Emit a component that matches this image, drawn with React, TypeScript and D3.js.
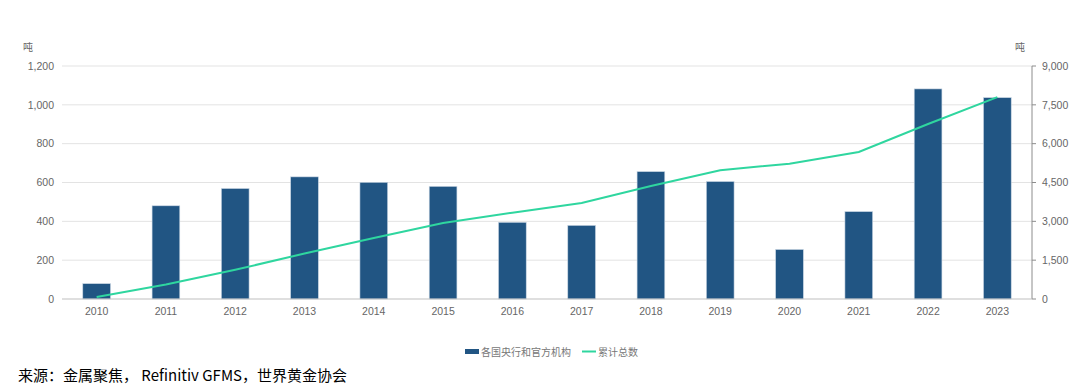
import React from "react";
import * as d3 from "d3";

const years = ["2010","2011","2012","2013","2014","2015","2016","2017","2018","2019","2020","2021","2022","2023"];
const purchases = [79, 480, 569, 629, 601, 580, 395, 379, 656, 605, 255, 450, 1082, 1037];
const cumulative = [79, 559, 1128, 1757, 2358, 2938, 3333, 3712, 4368, 4973, 5228, 5678, 6760, 7797];
const leftTicks = [0, 200, 400, 600, 800, 1000, 1200];
const rightTicks = [0, 1500, 3000, 4500, 6000, 7500, 9000];
const barLabel = "各国央行和官方机构";
const lineLabel = "累计总数";
const unit = "吨";
const source = "来源：金属聚焦， Refinitiv GFMS，世界黄金协会";

const W = 1080, H = 389;
const L = 62, R = 1032, T = 66, B = 299;
const font = "'Noto Sans CJK SC', 'Noto Sans', sans-serif";
const numFont = "'Liberation Sans', Arial, sans-serif";

export default function App() {
  const x = d3.scaleBand().domain(years).range([L, R]).paddingInner(0.6).paddingOuter(0.3);
  const yL = d3.scaleLinear().domain([0, 1200]).range([B, T]);
  const yR = d3.scaleLinear().domain([0, 9000]).range([B, T]);
  const line = d3.line<number>()
    .x((_, i) => (x(years[i]) as number) + x.bandwidth() / 2)
    .y((d) => yR(d));
  const fmt = d3.format(",");
  return (
    <svg width={W} height={H} style={{ position: "absolute", left: 0, top: 0, fontFamily: font }}>
      <rect width={W} height={H} fill="#fff" />
      {leftTicks.map((t) => (
        <g key={"l" + t}>
          {t > 0 && <line x1={L} x2={R} y1={yL(t)} y2={yL(t)} stroke="#e3e3e3" strokeWidth={1} />}
          <text x={54} y={yL(t)} dy="0.35em" textAnchor="end" fontSize={10.5} fill="#666" fontFamily={numFont}>{fmt(t)}</text>
        </g>
      ))}
      {rightTicks.map((t) => (
        <g key={"r" + t}>
          <line x1={R} x2={R + 4} y1={yR(t)} y2={yR(t)} stroke="#8c8c8c" />
          <text x={R + 10} y={yR(t)} dy="0.35em" textAnchor="start" fontSize={10.5} fill="#666" fontFamily={numFont}>{fmt(t)}</text>
        </g>
      ))}
      <line x1={R} x2={R} y1={T} y2={B} stroke="#8c8c8c" />
      <text x={28} y={51} fontSize={10} fill="#666" textAnchor="middle">{unit}</text>
      <text x={1020} y={51} fontSize={10} fill="#666" textAnchor="middle">{unit}</text>
      {years.map((yr, i) => (
        <rect key={yr} x={x(yr)} y={yL(purchases[i])} width={x.bandwidth()} height={B - yL(purchases[i])}
          fill="#215583" stroke="#c9d6e3" strokeWidth={0.6} />
      ))}
      <line x1={L} x2={R} y1={B} y2={B} stroke="#bfbfbf" strokeWidth={1.2} />
      {years.map((yr) => (
        <text key={"t" + yr} x={(x(yr) as number) + x.bandwidth() / 2} y={315} textAnchor="middle" fontSize={10.5} fill="#666" fontFamily={numFont}>{yr}</text>
      ))}
      <path d={line(cumulative) || ""} fill="none" stroke="#2fd69f" strokeWidth={2} />
      <rect x={465} y={349} width={14} height={5} fill="#215583" />
      <text x={481} y={352} dy="0.35em" fontSize={10} fill="#777">{barLabel}</text>
      <line x1={582} x2={596} y1={351.5} y2={351.5} stroke="#2fd69f" strokeWidth={2} />
      <text x={598} y={352} dy="0.35em" fontSize={10} fill="#777">{lineLabel}</text>
      <text x={18} y={381} fontSize={15} fill="#000">{source}</text>
    </svg>
  );
}
